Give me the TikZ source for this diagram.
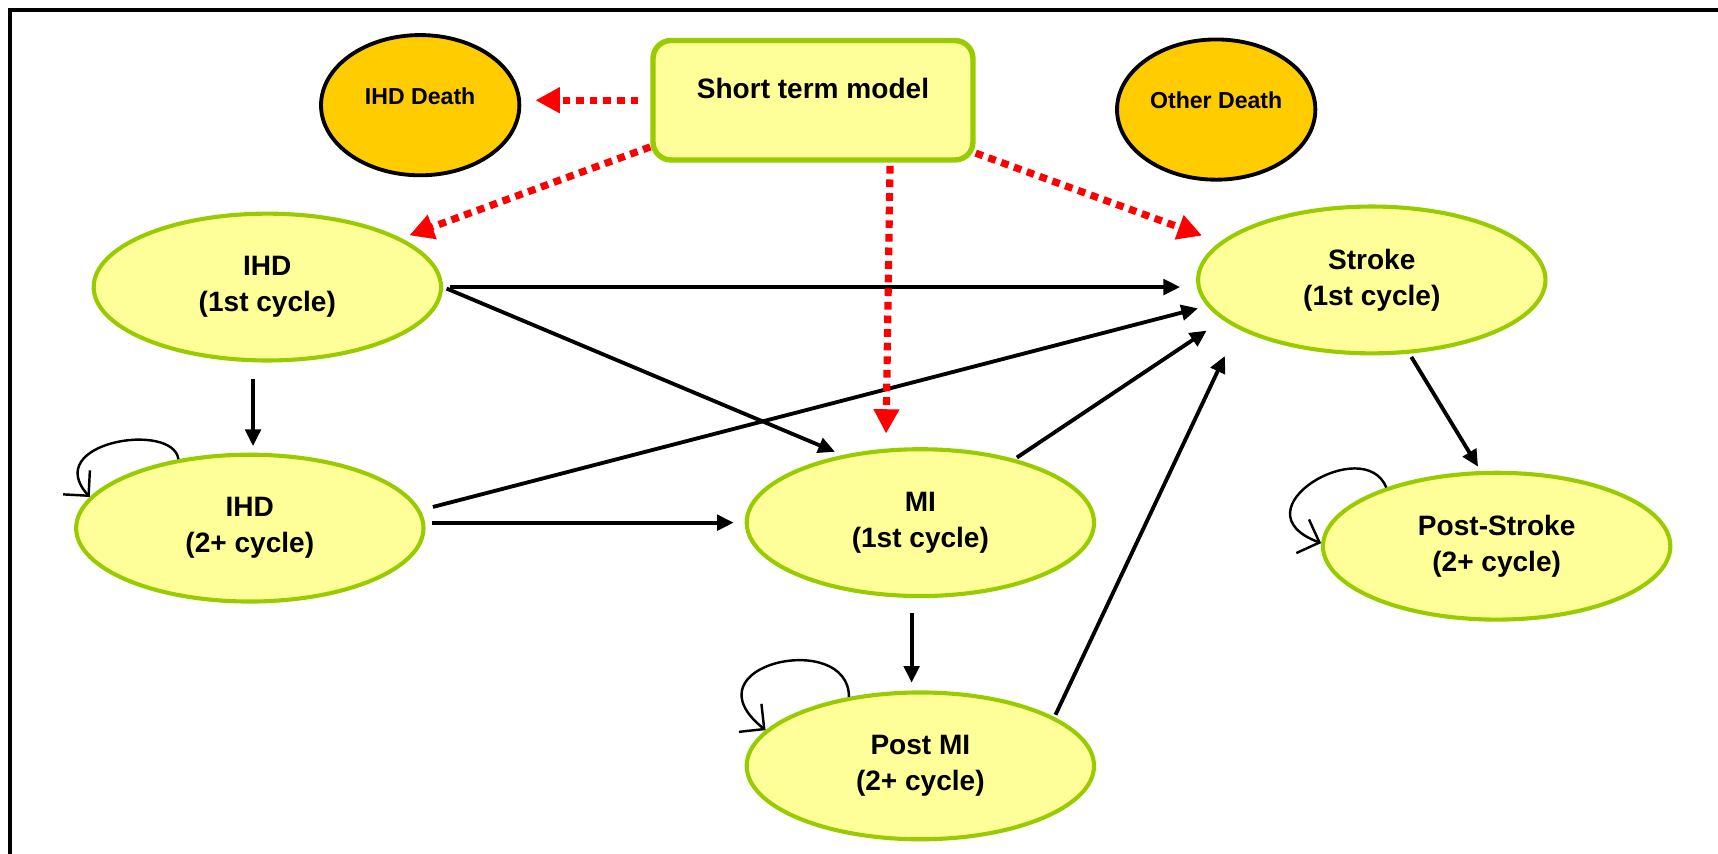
\documentclass[tikz,border=0pt]{standalone}
\usepackage{fontspec}
\setmainfont{Liberation Sans}
\usetikzlibrary{arrows.meta,shapes.geometric}
\definecolor{fillY}{HTML}{FFFF99}
\definecolor{edgeG}{HTML}{99CC00}
\definecolor{deathO}{HTML}{FFCC00}
\definecolor{arrRed}{HTML}{FF0000}
\begin{document}
\begin{tikzpicture}[x=0.03cm,y=-0.03cm,
  state/.style={ellipse, draw=edgeG, fill=fillY, line width=3.2pt, minimum width=9.51cm, minimum height=4.02cm, inner sep=0pt, align=center, font=\fontsize{21.85}{28.2}\selectfont\bfseries},
  death/.style={ellipse, draw=black, fill=deathO, line width=3pt, minimum width=5.43cm, minimum height=3.84cm, inner sep=0pt, font=\fontsize{18}{21}\selectfont\bfseries, text height=13pt, text depth=14.4pt},
  stmbox/.style={rectangle, rounded corners=14pt, draw=edgeG, fill=fillY, line width=4.2pt, minimum width=8.76cm, minimum height=3.27cm, inner sep=0pt, font=\fontsize{21.85}{26}\selectfont\bfseries, text height=15.7pt, text depth=17.9pt},
  blk/.style={draw=black, line width=3pt, -{Triangle[length=13pt,width=12pt]}},
  redarr/.style={draw=arrRed, line width=5.6pt, dash pattern=on 6pt off 4.6pt, -{Triangle[length=19pt,width=19pt]}},
  selfloop/.style={draw=black, line width=1.9pt, -{Straight Barb[length=14pt,width=28pt]}},
]
\useasboundingbox (0,0) rectangle (1568,779);
\draw[line width=2.8pt] (9,779) -- (9,9) -- (1568,9);

\node[death] (ihddeath) at (383.5,96) {IHD Death};
\node[death] (otherdeath) at (1110,100) {Other Death};
\node[stmbox] (stm) at (742,91.5) {Short term model};
\node[state] (ihd1) at (244,262) {IHD\\(1st cycle)};
\node[state] (ihd2) at (228,482) {IHD\\(2+ cycle)};
\node[state] (mi) at (840,477) {MI\\(1st cycle)};
\node[state] (postmi) at (840,699) {Post MI\\(2+ cycle)};
\node[state] (stroke) at (1252,255.5) {Stroke\\(1st cycle)};
\node[state] (poststroke) at (1366,498.5) {Post-Stroke\\(2+ cycle)};

% black transitions
\draw[blk, shorten <=5.5pt, shorten >=12.4pt] (ihd1.east) -- (ihd1.east -| stroke.west);
\draw[blk, shorten <=3pt, shorten >=6.4pt] (ihd1.east) -- (mi.139);
\draw[blk, shorten <=12.8pt, shorten >=5.1pt] ([xshift=2.5pt]ihd2.north |- ihd1.south) -- ([xshift=2.5pt]ihd2.north);
\draw[blk, shorten <=10pt, shorten >=7.2pt] (ihd2.6) -- (stroke.189);
\draw[blk, shorten <=5pt, shorten >=8.5pt] (ihd2.east |- mi.west) -- (mi.west);
\draw[blk, shorten <=2pt, shorten >=15pt] (mi.34) -- (stroke.195);
\draw[blk, shorten <=11.5pt, shorten >=6pt] ([xshift=-6.8pt]mi.south) -- ([xshift=-6.8pt]postmi.north);
\draw[blk, shorten <=2pt, shorten >=23.5pt] (postmi.20) -- (stroke.200);
\draw[blk, shorten <=3pt, shorten >=4pt] (stroke.297) -- (poststroke.102);

% self loops
\draw[selfloop] (ihd2.136) .. controls +(-5,-35) and +(-45,-50) .. (ihd2.169);
\draw[selfloop] (postmi.136) .. controls +(0,-62) and +(-75,-60) .. (postmi.167);
\draw[selfloop] (poststroke.152) .. controls +(-20,-50) and +(-80,-30) .. (poststroke.179);

% short term model links
\draw[redarr, shorten <=9.4pt, shorten >=11pt] (stm.west) -- (stm.west -| ihddeath.east);
\draw[redarr, shorten >=6.6pt] (stm.196) -- (ihd1.20);
\draw[redarr, shorten <=2.5pt, shorten >=11.7pt] (stm.321) -- (mi.115);
\draw[redarr, shorten >=14.7pt] (stm.342) -- (stroke.166);
\end{tikzpicture}
\end{document}
